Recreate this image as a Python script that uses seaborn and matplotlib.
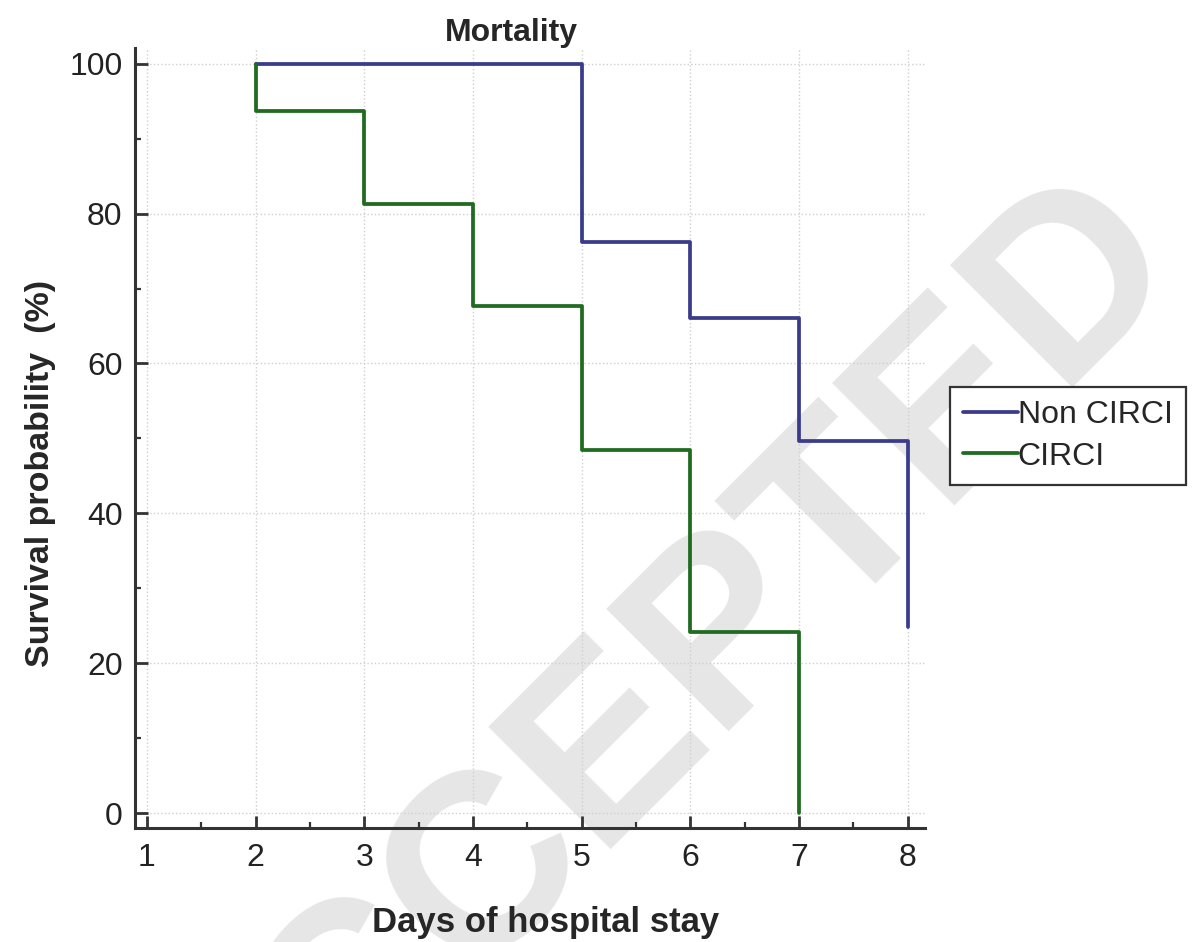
import pandas as pd
import matplotlib
matplotlib.use("Agg")
import matplotlib.pyplot as plt
from matplotlib.ticker import MultipleLocator
import seaborn as sns

# survival curves
non_circi_days = [2, 5, 6, 7, 8]
non_circi_surv = [100, 76.2, 66.1, 49.6, 24.8]
circi_days = [2, 2, 3, 4, 5, 6, 7]
circi_surv = [100, 93.75, 81.25, 67.7, 48.4, 24.2, 0]

groups = ["Non CIRCI", "CIRCI"]
colors = ["#3b3b8c", "#1f6b1f"]

df = pd.concat([
    pd.DataFrame({"day": non_circi_days, "surv": non_circi_surv, "group": groups[0]}),
    pd.DataFrame({"day": circi_days, "surv": circi_surv, "group": groups[1]}),
], ignore_index=True)

sns.set_style("white")
plt.rcParams["font.family"] = ["Liberation Sans", "DejaVu Sans"]

fig = plt.figure(figsize=(11.94, 9.42), dpi=100)
fig.patch.set_facecolor("white")

# watermark behind the axes
fig.text(0.549, 0.25, "ACCEPTED", rotation=45, ha="center", va="center",
         fontsize=180, fontweight="bold", color="#e6e6e6", zorder=-1)

ax = fig.add_axes([0.1131, 0.1210, 0.6616, 0.828])
ax.set_facecolor("none")

sns.lineplot(data=df, x="day", y="surv", hue="group", hue_order=groups,
             palette=colors, estimator=None, sort=False, drawstyle="steps-post",
             linewidth=2.7, ax=ax, legend=False, zorder=3)

ax.set_xlim(0.89, 8.16)
ax.set_ylim(-2.0, 102.1)
ax.xaxis.set_major_locator(MultipleLocator(1))
ax.xaxis.set_minor_locator(MultipleLocator(0.5))
ax.yaxis.set_major_locator(MultipleLocator(20))
ax.yaxis.set_minor_locator(MultipleLocator(10))

for side in ["top", "right"]:
    ax.spines[side].set_visible(False)
for side in ["left", "bottom"]:
    ax.spines[side].set_linewidth(2.2)
    ax.spines[side].set_color("#333333")

ax.tick_params(which="major", direction="in", length=9, width=2.0, color="#333333",
               labelsize=23, labelcolor="#222222")
ax.tick_params(axis="x", which="major", pad=11)
ax.tick_params(axis="y", which="major", pad=9)
ax.tick_params(which="minor", direction="in", length=4.5, width=1.6, color="#333333")
ax.tick_params(axis="y", which="both", left=True)
ax.tick_params(axis="x", which="both", bottom=True)

ax.grid(True, which="major", color="#cfcfcf", linestyle=":", linewidth=1.0)
ax.set_axisbelow(True)

ax.set_xlabel("Days of hospital stay", fontsize=25, fontweight="bold")
ax.xaxis.set_label_coords(0.52, -0.1)
ax.set_ylabel("Survival probability  (%)", fontsize=24.5, fontweight="bold")
ax.yaxis.set_label_coords(-0.1, 0.454)
ax.set_title("Mortality", fontsize=23, fontweight="bold", pad=4, x=0.477)

handles = [plt.Line2D([], [], color=c, linewidth=2.7) for c in colors]
leg = ax.legend(handles, groups, loc="upper left", bbox_to_anchor=(0.7956, 0.5892),
                bbox_transform=fig.transFigure, borderaxespad=0, fontsize=23,
                handlelength=1.7, handletextpad=0.0, labelspacing=0.35,
                borderpad=0.42, fancybox=False, framealpha=1, edgecolor="#333333")
leg.get_frame().set_linewidth(1.6)

fig.savefig("out.png", dpi=100)
